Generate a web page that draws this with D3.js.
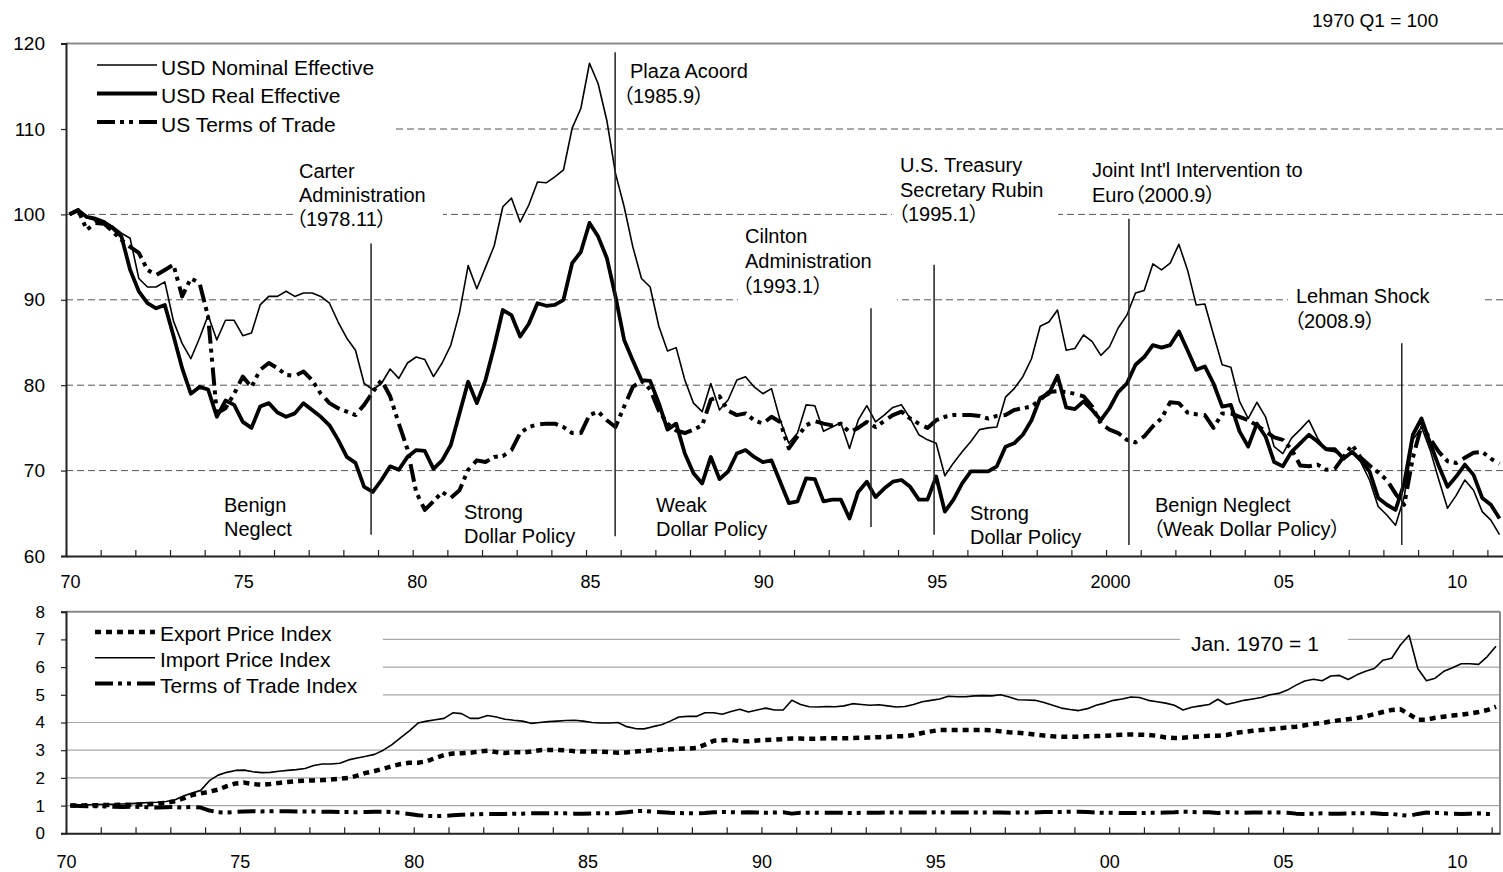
<!DOCTYPE html>
<html><head><meta charset="utf-8">
<script src="https://cdn.jsdelivr.net/npm/d3@7"></script>
<style>
html,body{margin:0;padding:0;background:#fff;}
svg{display:block;font-family:"Liberation Sans",Arial,"Noto Sans CJK JP",sans-serif;font-feature-settings:"palt";}
</style></head><body>
<svg id="chart" width="1503" height="872"></svg>
<script>
// ---------- DATA (quarterly, 1970 Q1 = 100) ----------
const usdNominal = [
100.0,100.6,99.6,99.3, 99.0,98.6,97.8,97.2, 92.5,91.5,91.5,92.1, 87.5,84.9,83.1,85.5,
88.2,85.3,87.6,87.6, 85.8,86.1,89.4,90.4, 90.4,91.0,90.4,90.8, 90.8,90.4,89.6,87.4,
85.5,84.1,80.2,79.5, 80.2,81.9,80.8,82.6, 83.3,83.0,81.0,82.6, 84.7,88.5,94.0,91.3,
93.8,96.3,100.9,101.9, 99.1,101.1,103.8,103.7, 104.4,105.2,110.1,112.4, 117.7,115.3,111.0,104.8,
100.9,96.2,92.5,91.5, 86.9,84.0,84.4,80.6, 77.9,76.9,80.2,77.1, 78.3,80.6,81.0,79.8,
79.0,79.6,75.9,73.2, 74.4,77.7,77.6,74.6, 75.1,75.6,72.6,75.9, 77.6,75.7,76.5,77.4,
77.7,76.1,74.2,73.6, 73.2,69.4,70.9,72.2, 73.4,74.8,75.0,75.1, 78.6,79.6,81.0,83.1,
86.9,87.4,88.8,84.1, 84.3,85.9,85.1,83.5, 84.5,86.7,88.2,90.8, 91.1,94.2,93.5,94.3,
96.5,93.5,89.4,89.5, 85.9,82.4,82.1,78.1, 76.1,78.0,76.3,72.8, 72.0,73.8,74.8,75.9,
73.8,72.4,72.2,71.6, 72.2,71.0,68.9,65.8, 64.8,63.6,66.9,73.6, 75.1,72.4,68.9,65.6,
67.1,68.9,67.7,65.2, 64.2,62.5];
const usdReal = [
100.0,100.5,99.7,99.5, 99.1,98.4,97.4,93.5, 91.0,89.6,89.0,89.4, 85.8,82.0,79.0,79.8,
79.5,76.3,78.2,77.7, 75.7,75.0,77.5,77.9, 76.8,76.3,76.7,77.9, 77.1,76.3,75.3,73.6,
71.6,70.9,68.1,67.5, 68.9,70.5,70.1,71.6, 72.4,72.3,70.2,71.2, 73.0,76.7,80.4,77.9,
80.6,84.5,88.8,88.2, 85.7,87.2,89.6,89.3, 89.4,90.0,94.3,95.6, 99.0,97.4,94.9,90.4,
85.3,82.9,80.6,80.5, 77.9,74.8,75.5,72.0, 69.7,68.5,71.6,69.0, 69.9,72.0,72.4,71.6,
71.0,71.2,68.7,66.2, 66.4,69.1,69.0,66.4, 66.6,66.6,64.4,67.5, 68.7,66.9,67.9,68.7,
68.9,68.1,66.6,66.6, 69.3,65.2,66.6,68.5, 69.9,69.9,69.9,70.5, 72.8,73.2,74.2,75.9,
78.5,79.0,81.1,77.4, 77.2,78.1,77.1,75.9, 77.3,79.2,80.2,82.4, 83.3,84.7,84.4,84.7,
86.3,84.1,81.8,82.2, 80.2,77.5,77.7,74.6, 72.8,75.5,74.0,71.0, 70.5,72.2,73.2,74.2,
73.4,72.5,72.5,71.4, 72.2,71.2,69.9,66.8, 66.0,65.4,68.5,74.2, 76.1,73.2,70.5,68.1,
69.3,70.7,69.5,66.8, 66.0,64.4];
const usTermsOfTrade = [
100.0,100.5,98.2,99.0, 98.9,98.0,97.0,96.2, 95.5,93.5,92.9,93.5, 94.1,90.4,92.5,92.0,
88.0,76.7,77.3,79.0, 81.0,79.8,81.8,82.6, 82.0,81.2,81.1,81.6, 80.6,79.0,77.9,77.3,
76.9,76.5,77.7,79.2, 80.6,78.7,75.5,72.5, 67.5,65.4,66.4,67.5, 66.8,67.7,70.1,71.2,
71.0,71.6,71.7,72.4, 74.4,75.1,75.4,75.5, 75.5,75.1,74.4,74.4, 76.5,76.9,75.9,75.1,
77.5,79.8,80.5,79.5, 77.0,75.5,74.7,74.4, 74.8,75.3,78.3,78.7, 77.0,76.5,76.7,75.9,
75.5,76.3,75.7,72.6, 74.0,75.3,75.8,75.5, 75.3,75.5,74.5,75.0, 75.7,75.1,75.8,76.5,
76.9,76.1,75.5,75.0, 75.9,76.3,76.5,76.5, 76.5,76.4,76.1,76.4, 76.5,77.1,77.3,77.5,
78.3,79.2,79.3,79.2, 79.0,78.7,77.5,75.5, 74.8,74.4,73.6,73.3, 74.0,75.2,76.1,78.0,
77.9,76.8,76.6,76.5, 75.0,76.7,76.7,76.3, 75.9,75.3,74.6,73.9, 73.6,72.5,70.6,70.5,
70.7,70.1,70.2,71.6, 73.0,71.5,70.6,69.8, 68.9,67.3,66.0,71.5, 75.3,73.7,72.2,71.1,
70.9,71.5,72.1,72.2, 71.4,70.8];

// ---------- DATA (quarterly, Jan. 1970 = 1) ----------
const exportPrice = [
1.00,1.00,1.01,1.01, 1.02,1.02,1.03,1.03, 1.04,1.05,1.07,1.10, 1.16,1.26,1.38,1.44,
1.50,1.58,1.70,1.80, 1.83,1.78,1.75,1.78, 1.82,1.85,1.88,1.90, 1.91,1.92,1.94,1.97,
2.00,2.08,2.18,2.25, 2.33,2.42,2.50,2.55, 2.55,2.60,2.72,2.83, 2.88,2.89,2.91,2.95,
2.98,2.93,2.90,2.93, 2.92,2.95,3.00,3.01, 3.01,3.00,2.96,2.95, 2.95,2.95,2.93,2.91,
2.92,2.95,2.98,3.00, 3.02,3.03,3.05,3.06, 3.08,3.20,3.34,3.36, 3.37,3.33,3.32,3.35,
3.37,3.38,3.40,3.42, 3.42,3.41,3.42,3.43, 3.43,3.43,3.44,3.45, 3.46,3.47,3.48,3.50,
3.51,3.55,3.62,3.68, 3.73,3.73,3.73,3.73, 3.73,3.73,3.72,3.68, 3.65,3.63,3.60,3.56,
3.53,3.50,3.49,3.49, 3.49,3.50,3.51,3.52, 3.54,3.56,3.57,3.56, 3.55,3.52,3.46,3.44,
3.45,3.48,3.50,3.52, 3.52,3.55,3.62,3.66, 3.70,3.73,3.76,3.79, 3.82,3.85,3.90,3.95,
3.98,4.04,4.08,4.12, 4.16,4.22,4.30,4.38, 4.45,4.48,4.30,4.10, 4.10,4.17,4.21,4.25,
4.28,4.32,4.38,4.45, 4.57];
const importPrice = [
1.00,1.01,1.03,1.04, 1.05,1.05,1.06,1.07, 1.09,1.11,1.12,1.15, 1.20,1.35,1.45,1.55,
1.90,2.10,2.20,2.27, 2.28,2.22,2.19,2.20, 2.24,2.27,2.30,2.34, 2.45,2.50,2.50,2.53,
2.65,2.72,2.78,2.85, 3.00,3.20,3.45,3.70, 3.98,4.05,4.10,4.15, 4.35,4.32,4.15,4.15,
4.25,4.20,4.12,4.08, 4.05,3.97,4.00,4.03, 4.05,4.07,4.08,4.05, 4.00,3.98,3.98,4.00,
3.85,3.78,3.77,3.85, 3.92,4.05,4.20,4.22, 4.22,4.35,4.35,4.30, 4.40,4.48,4.38,4.45,
4.52,4.45,4.45,4.80, 4.65,4.57,4.56,4.58, 4.57,4.60,4.68,4.65, 4.62,4.64,4.60,4.56,
4.58,4.65,4.75,4.80, 4.85,4.95,4.93,4.93, 4.96,4.97,4.96,5.00, 4.92,4.82,4.81,4.80,
4.72,4.62,4.52,4.47, 4.43,4.50,4.62,4.70, 4.80,4.85,4.92,4.90, 4.80,4.75,4.70,4.62,
4.45,4.55,4.60,4.65, 4.84,4.65,4.72,4.80, 4.85,4.90,5.00,5.05, 5.17,5.35,5.50,5.56,
5.51,5.68,5.70,5.55, 5.72,5.85,5.95,6.25, 6.32,6.80,7.15,5.95, 5.51,5.60,5.85,5.98,
6.12,6.12,6.10,6.38, 6.75];
const termsOfTradeIndex = [
1.00,0.99,0.98,0.98, 0.97,0.96,0.95,0.96, 0.95,0.94,0.93,0.94, 0.95,0.93,0.95,0.93,
0.82,0.76,0.75,0.77, 0.79,0.80,0.79,0.80, 0.80,0.80,0.79,0.79, 0.79,0.78,0.78,0.77,
0.77,0.76,0.77,0.78, 0.78,0.77,0.74,0.70, 0.65,0.63,0.62,0.63, 0.65,0.67,0.68,0.69,
0.70,0.70,0.70,0.71, 0.71,0.72,0.72,0.72, 0.72,0.72,0.71,0.71, 0.72,0.72,0.72,0.73,
0.76,0.80,0.81,0.78, 0.76,0.74,0.73,0.72, 0.72,0.73,0.76,0.77, 0.76,0.75,0.76,0.75,
0.74,0.75,0.76,0.71, 0.74,0.74,0.74,0.74, 0.74,0.74,0.73,0.74, 0.74,0.74,0.75,0.75,
0.75,0.75,0.75,0.75, 0.76,0.75,0.75,0.75, 0.75,0.75,0.75,0.75, 0.74,0.75,0.75,0.75,
0.77,0.77,0.77,0.78, 0.78,0.77,0.75,0.74, 0.74,0.73,0.73,0.73, 0.74,0.74,0.75,0.76,
0.78,0.77,0.76,0.76, 0.73,0.76,0.75,0.74, 0.75,0.75,0.75,0.75, 0.74,0.71,0.70,0.71,
0.72,0.71,0.71,0.72, 0.72,0.72,0.72,0.70, 0.70,0.66,0.63,0.70, 0.75,0.74,0.72,0.71,
0.70,0.71,0.72,0.70, 0.68];

const topYTicks = [60, 70, 80, 90, 100, 110, 120];
const topGridValues = [70, 80, 90, 100, 110];
const botYTicks = [0, 1, 2, 3, 4, 5, 6, 7, 8];
const botGridValues = [1, 2, 3, 4, 5, 6, 7];
const yearTicks = d3.range(1970, 2012);
const topXLabels = {1970:"70",1975:"75",1980:"80",1985:"85",1990:"90",1995:"95",2000:"2000",2005:"05",2010:"10"};
const botXLabels = {1970:"70",1975:"75",1980:"80",1985:"85",1990:"90",1995:"95",2000:"00",2005:"05",2010:"10"};

const eventYears = [1978.80, 1985.84, 1993.22, 1995.04, 2000.66, 2008.53];

const topLegendNames = ["USD Nominal Effective", "USD Real Effective", "US Terms of Trade"];
const botLegendNames = ["Export Price Index", "Import Price Index", "Terms of Trade Index"];

// ---------- LAYOUT ----------
const svg = d3.select("#chart");
const W = 1503;
const xTop = d3.scaleLinear().domain([1970, 2011.45]).range([66, 1503]);
const yTop = d3.scaleLinear().domain([60, 120]).range([556, 43.6]);
const xBot = d3.scaleLinear().domain([1970, 2011.24]).range([66, 1500]);
const yBot = d3.scaleLinear().domain([0, 8]).range([833.3, 611.7]);

const tTop = i => 1970 + (i + 0.4) / 4;
const tBot = i => 1970 + (i + 0.5) / 4;

const styles = {
  thin: {w: 1.6, dash: null},
  thick: {w: 3.8, dash: null},
  dashdot: {w: 4, dash: "18,5,4,5,4,6"},
  dots: {w: 4.5, dash: "6,5"}
};
const FS_ANN = 20, FS_LEG = 21;

// ===== TOP CHART =====
const gTop = svg.append("g");
gTop.selectAll("line.grid").data(topGridValues).join("line")
  .attr("x1", 66).attr("x2", W).attr("y1", d => yTop(d)).attr("y2", d => yTop(d))
  .attr("stroke", "#555").attr("stroke-width", 1).attr("stroke-dasharray", "7,4");
gTop.append("line").attr("x1", 66).attr("x2", W).attr("y1", yTop(120)).attr("y2", yTop(120))
  .attr("stroke", "#8a8a8a").attr("stroke-width", 2);

const topBoxes = [
  [66, 50, 329, 88],
  [293, 156, 150, 78],
  [738, 222, 159, 82],
  [892, 150, 166, 78],
  [1085, 155, 225, 54],
  [1288, 281, 197, 54]
];
gTop.selectAll("rect.box").data(topBoxes).join("rect")
  .attr("x", d => d[0]).attr("y", d => d[1]).attr("width", d => d[2]).attr("height", d => d[3])
  .attr("fill", "#fff");

const xAxTop = d3.axisBottom(xTop).tickValues(yearTicks).tickSizeInner(-6).tickSizeOuter(0)
  .tickPadding(19).tickFormat(d => topXLabels[d] || "");
const gxt = gTop.append("g").attr("transform", `translate(0,${yTop(60)})`).call(xAxTop);
const yAxTop = d3.axisLeft(yTop).tickValues(topYTicks).tickSize(5).tickPadding(16).tickFormat(d3.format("d"));
const gyt = gTop.append("g").attr("transform", "translate(66,0)").call(yAxTop);
[gxt, gyt].forEach(g => {
  g.select(".domain").attr("stroke", "#222").attr("stroke-width", 2);
  g.selectAll(".tick line").attr("stroke", "#222").attr("stroke-width", 1.2);
  g.selectAll("text").attr("fill", "#000").style("font-family", "inherit");
});
gxt.selectAll("text").attr("font-size", 18).attr("dx", 4);
gyt.selectAll("text").attr("font-size", 19);

const lineTop = d3.line().x((d, i) => xTop(tTop(i))).y(d => yTop(d));
const topSeries = [
  {data: usdNominal, st: styles.thin},
  {data: usdReal, st: styles.thick},
  {data: usTermsOfTrade, st: styles.dashdot}
];
svg.append("defs").append("clipPath").attr("id", "ctop")
  .append("rect").attr("x", 66).attr("y", 40).attr("width", W - 66).attr("height", 520);
gTop.append("g").attr("clip-path", "url(#ctop)").selectAll("path.s").data(topSeries).join("path")
  .attr("d", d => lineTop(d.data)).attr("fill", "none").attr("stroke", "#000")
  .attr("stroke-width", d => d.st.w).attr("stroke-dasharray", d => d.st.dash)
  .attr("stroke-linejoin", "round");

const eventSpans = [[96.6, 62.5], [119.0, 62.3], [89.0, 63.4], [94.1, 62.5], [99.5, 61.3], [84.9, 61.3]];
gTop.selectAll("line.ev").data(eventYears).join("line")
  .attr("x1", d => xTop(d)).attr("x2", d => xTop(d))
  .attr("y1", (d, i) => yTop(eventSpans[i][0])).attr("y2", (d, i) => yTop(eventSpans[i][1]))
  .attr("stroke", "#222").attr("stroke-width", 1.5);

const annotations = [
  {x: 299, y: 178, dy: 24, lines: ["Carter", "Administration", "（1978.11）"], dx: [0, 0, -3]},
  {x: 630, y: 78, dy: 25, lines: ["Plaza Acoord", "（1985.9）"], dx: [0, -7]},
  {x: 745, y: 243, dy: 25, lines: ["Cilnton", "Administration", "（1993.1）"], dx: [0, 0, -3]},
  {x: 900, y: 172, dy: 24.5, lines: ["U.S. Treasury", "Secretary Rubin", "（1995.1）"], dx: [0, 0, -2]},
  {x: 1092, y: 177, dy: 25, lines: ["Joint Int'l Intervention to", "Euro（2000.9）"]},
  {x: 1296, y: 303, dy: 25, lines: ["Lehman Shock", "（2008.9）"], dx: [0, -2]},
  {x: 224, y: 512, dy: 23.5, lines: ["Benign", "Neglect"]},
  {x: 464, y: 519, dy: 23.5, lines: ["Strong", "Dollar Policy"]},
  {x: 656, y: 512, dy: 23.5, lines: ["Weak", "Dollar Policy"]},
  {x: 970, y: 520, dy: 23.5, lines: ["Strong", "Dollar Policy"]},
  {x: 1155, y: 512, dy: 23.5, lines: ["Benign Neglect", "（Weak Dollar Policy）"], dx: [0, -2]}
];
annotations.forEach(a => {
  a.lines.forEach((t, j) => {
    gTop.append("text").attr("x", a.x + (a.dx ? a.dx[j] : 0)).attr("y", a.y + j * a.dy)
      .attr("font-size", FS_ANN).attr("fill", "#000").text(t);
  });
});

gTop.append("text").attr("x", 1312).attr("y", 27).attr("font-size", 19).attr("fill", "#000").text("1970 Q1 = 100");

const legTop = gTop.append("g");
topSeries.forEach((s, i) => {
  const yy = 65 + i * 28.5;
  legTop.append("line").attr("x1", 97).attr("x2", 157).attr("y1", yy).attr("y2", yy)
    .attr("stroke", "#000").attr("stroke-width", s.st.w).attr("stroke-dasharray", s.st.dash);
  legTop.append("text").attr("x", 161).attr("y", yy + 9.5).attr("font-size", FS_LEG).attr("fill", "#000")
    .text(topLegendNames[i]);
});

// ===== BOTTOM CHART =====
const gBot = svg.append("g");
gBot.selectAll("line.grid").data(botGridValues).join("line")
  .attr("x1", 66).attr("x2", 1500).attr("y1", d => yBot(d)).attr("y2", d => yBot(d))
  .attr("stroke", "#a8a8a8").attr("stroke-width", 1.2);
gBot.append("line").attr("x1", 66).attr("x2", 1500).attr("y1", yBot(8)).attr("y2", yBot(8))
  .attr("stroke", "#8a8a8a").attr("stroke-width", 2);
gBot.append("line").attr("x1", 1500).attr("x2", 1500).attr("y1", yBot(8)).attr("y2", yBot(0))
  .attr("stroke", "#8a8a8a").attr("stroke-width", 2);

const botBoxes = [
  [66, 616, 317, 82],
  [1180, 626, 168, 28]
];
gBot.selectAll("rect.box").data(botBoxes).join("rect")
  .attr("x", d => d[0]).attr("y", d => d[1]).attr("width", d => d[2]).attr("height", d => d[3])
  .attr("fill", "#fff");

const xAxBot = d3.axisBottom(xBot).tickValues(yearTicks).tickSizeInner(-6).tickSizeOuter(0)
  .tickPadding(22).tickFormat(d => botXLabels[d] || "");
const gxb = gBot.append("g").attr("transform", `translate(0,${yBot(0)})`).call(xAxBot);
const yAxBot = d3.axisLeft(yBot).tickValues(botYTicks).tickSize(5).tickPadding(16).tickFormat(d3.format("d"));
const gyb = gBot.append("g").attr("transform", "translate(66,0)").call(yAxBot);
[gxb, gyb].forEach(g => {
  g.select(".domain").attr("stroke", "#222").attr("stroke-width", 2);
  g.selectAll(".tick line").attr("stroke", "#222").attr("stroke-width", 1.2);
  g.selectAll("text").attr("fill", "#000").style("font-family", "inherit");
});
gxb.selectAll("text").attr("font-size", 18);
gyb.selectAll("text").attr("font-size", 17);

const lineBot = d3.line().x((d, i) => xBot(tBot(i))).y(d => yBot(d));
const botSeries = [
  {data: exportPrice, st: styles.dots},
  {data: importPrice, st: styles.thin},
  {data: termsOfTradeIndex, st: styles.dashdot}
];
gBot.selectAll("path.s").data(botSeries).join("path")
  .attr("d", d => lineBot(d.data)).attr("fill", "none").attr("stroke", "#000")
  .attr("stroke-width", d => d.st.w).attr("stroke-dasharray", d => d.st.dash)
  .attr("stroke-linejoin", "round");

gBot.append("text").attr("x", 1191).attr("y", 651).attr("font-size", FS_LEG).attr("fill", "#000").text("Jan. 1970 = 1");

const legBot = gBot.append("g");
botSeries.forEach((s, i) => {
  const yy = 632 + i * 25.8;
  legBot.append("line").attr("x1", 95).attr("x2", 155).attr("y1", yy).attr("y2", yy)
    .attr("stroke", "#000").attr("stroke-width", s.st.w).attr("stroke-dasharray", s.st.dash);
  legBot.append("text").attr("x", 160).attr("y", yy + 9).attr("font-size", FS_LEG).attr("fill", "#000")
    .text(botLegendNames[i]);
});
</script>
</body></html>
